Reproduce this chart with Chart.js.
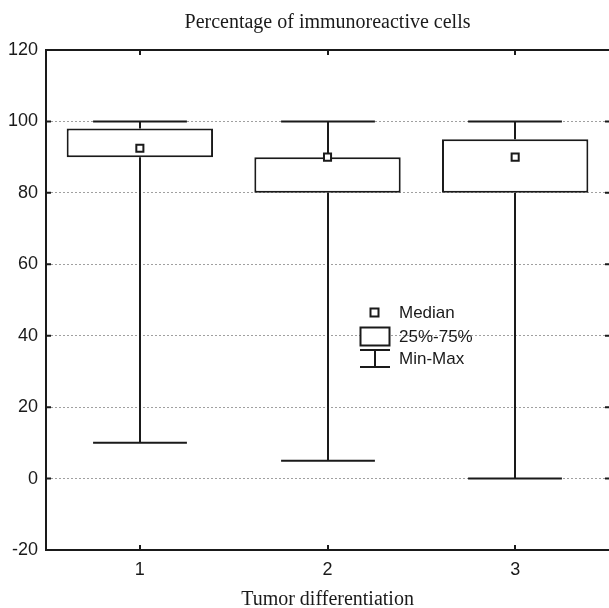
<!DOCTYPE html>
<html>
<head>
<meta charset="utf-8">
<script src="https://cdn.jsdelivr.net/npm/chart.js@4/dist/chart.umd.min.js"></script>
<style>
  html, body { margin: 0; padding: 0; background: #fff; overflow: hidden; }
  #wrap { width: 609px; height: 608px; position: relative; }
</style>
</head>
<body>
<div id="wrap"><canvas id="c"></canvas></div>
<script>
// ---- data ----
const categories = ['1', '2', '3'];
const minVals    = [10, 5, 0];
const q1Vals     = [90, 80, 80];
const medianVals = [92.5, 90, 90];
const q3Vals     = [98, 90, 95];
const maxVals    = [100, 100, 100];
const yMin = -20, yMax = 120, yStep = 20;
const chartTitle = 'Percentage of immunoreactive cells';
const xTitle = 'Tumor differentiation';
const legendLabels = ['Median', '25%-75%', 'Min-Max'];

const INK = '#1a1a1a';

const boxPlugin = {
  id: 'boxExtras',
  beforeDatasetsDraw(chart) {
    const { ctx, scales: { x, y } } = chart;
    const catW = x.getPixelForValue(1) - x.getPixelForValue(0);
    const capHalf = catW * 0.25;
    ctx.save();
    ctx.strokeStyle = INK;
    ctx.lineWidth = 2;
    categories.forEach((c, i) => {
      const cx = Math.round(x.getPixelForValue(i));
      const pMin = y.getPixelForValue(minVals[i]);
      const pQ1 = y.getPixelForValue(q1Vals[i]);
      const pQ3 = y.getPixelForValue(q3Vals[i]);
      const pMax = y.getPixelForValue(maxVals[i]);
      ctx.beginPath();
      ctx.moveTo(cx, pMin); ctx.lineTo(cx, pQ1);
      ctx.moveTo(cx, pQ3); ctx.lineTo(cx, pMax);
      ctx.moveTo(cx - capHalf, pMin); ctx.lineTo(cx + capHalf, pMin);
      ctx.moveTo(cx - capHalf, pMax); ctx.lineTo(cx + capHalf, pMax);
      ctx.stroke();
    });
    ctx.restore();
  },
  afterDraw(chart) {
    const { ctx, chartArea: a, scales: { x, y } } = chart;
    ctx.save();
    ctx.strokeStyle = INK;
    ctx.lineWidth = 2;
    // frame top (right frame edge lies at the picture's edge)
    ctx.beginPath();
    ctx.moveTo(a.left, a.top); ctx.lineTo(a.right + 2, a.top);
    ctx.stroke();
    // category tick marks top & bottom (inside)
    ctx.beginPath();
    categories.forEach((c, i) => {
      const cx = Math.round(x.getPixelForValue(i));
      ctx.moveTo(cx, a.top); ctx.lineTo(cx, a.top + 5);
      ctx.moveTo(cx, a.bottom); ctx.lineTo(cx, a.bottom - 5);
    });
    // left & right axis ticks (inside)
    for (let v = yMin; v <= yMax; v += yStep) {
      const py = y.getPixelForValue(v);
      ctx.moveTo(a.left, py); ctx.lineTo(a.left + 5, py);
      ctx.moveTo(a.right + 2, py); ctx.lineTo(a.right - 4, py);
    }
    ctx.stroke();

    // chart title, centred on the plot area
    ctx.fillStyle = INK;
    ctx.font = '20px "Liberation Serif", "Times New Roman", serif';
    ctx.textAlign = 'center';
    ctx.textBaseline = 'middle';
    ctx.fillText(chartTitle, (a.left + a.right) / 2, 23);

    // legend
    const lx = 360, ly = 300;
    ctx.lineWidth = 2;
    ctx.fillStyle = '#fff';
    ctx.beginPath();
    ctx.rect(lx + 10.5, ly + 8.5, 8, 8);
    ctx.fill(); ctx.stroke();
    ctx.beginPath();
    ctx.rect(lx + 0.5, ly + 27.5, 29, 18);
    ctx.fill(); ctx.stroke();
    ctx.beginPath();
    ctx.moveTo(lx, ly + 50); ctx.lineTo(lx + 30, ly + 50);
    ctx.moveTo(lx + 15, ly + 50); ctx.lineTo(lx + 15, ly + 67);
    ctx.moveTo(lx, ly + 67); ctx.lineTo(lx + 30, ly + 67);
    ctx.stroke();
    ctx.fillStyle = INK;
    ctx.font = '17px "Liberation Sans", Arial, sans-serif';
    ctx.textAlign = 'left';
    ctx.textBaseline = 'middle';
    ctx.fillText(legendLabels[0], lx + 39, ly + 13);
    ctx.fillText(legendLabels[1], lx + 39, ly + 37);
    ctx.fillText(legendLabels[2], lx + 39, ly + 59);
    ctx.restore();
  }
};

new Chart(document.getElementById('c'), {
  type: 'bar',
  data: {
    labels: categories,
    datasets: [
      {
        type: 'line',
        label: 'Median',
        data: medianVals,
        showLine: false,
        pointStyle: 'rect',
        pointRadius: 5,
        pointBorderWidth: 2,
        pointBackgroundColor: '#fff',
        pointBorderColor: INK,
        order: 0
      },
      {
        label: '25%-75%',
        data: categories.map((c, i) => [q1Vals[i], q3Vals[i]]),
        backgroundColor: '#fff',
        borderColor: INK,
        borderWidth: 2,
        borderSkipped: false,
        barPercentage: 0.78,
        categoryPercentage: 1.0,
        order: 1
      }
    ]
  },
  options: {
    responsive: true,
    maintainAspectRatio: false,
    animation: false,
    layout: { autoPadding: false, padding: { left: 0, right: 0, top: 50, bottom: -2 } },
    plugins: {
      legend: { display: false },
      tooltip: { enabled: false },
      title: { display: false }
    },
    scales: {
      x: {
        type: 'category',
        offset: true,
        grid: { display: false, drawTicks: false },
        border: { display: true, color: INK, width: 2 },
        ticks: {
          color: INK,
          padding: 11,
          font: { family: '"Liberation Sans", Arial, sans-serif', size: 18, lineHeight: 1.0 }
        },
        title: {
          display: true,
          text: xTitle,
          color: INK,
          padding: { top: 0, bottom: 0 },
          font: { family: '"Liberation Serif", "Times New Roman", serif', size: 20, lineHeight: 1.0 }
        }
      },
      y: {
        min: yMin,
        max: yMax,
        grid: {
          drawTicks: false,
          color: (ctx) => (ctx.tick && (ctx.tick.value === yMin || ctx.tick.value === yMax)) ? 'rgba(0,0,0,0)' : '#a0a0a0',
          lineWidth: 1
        },
        border: { display: true, color: INK, width: 2, dash: [2, 2] },
        ticks: {
          stepSize: yStep,
          color: INK,
          padding: 8,
          font: { family: '"Liberation Sans", Arial, sans-serif', size: 18 }
        }
      }
    }
  },
  plugins: [boxPlugin]
});
</script>
</body>
</html>
